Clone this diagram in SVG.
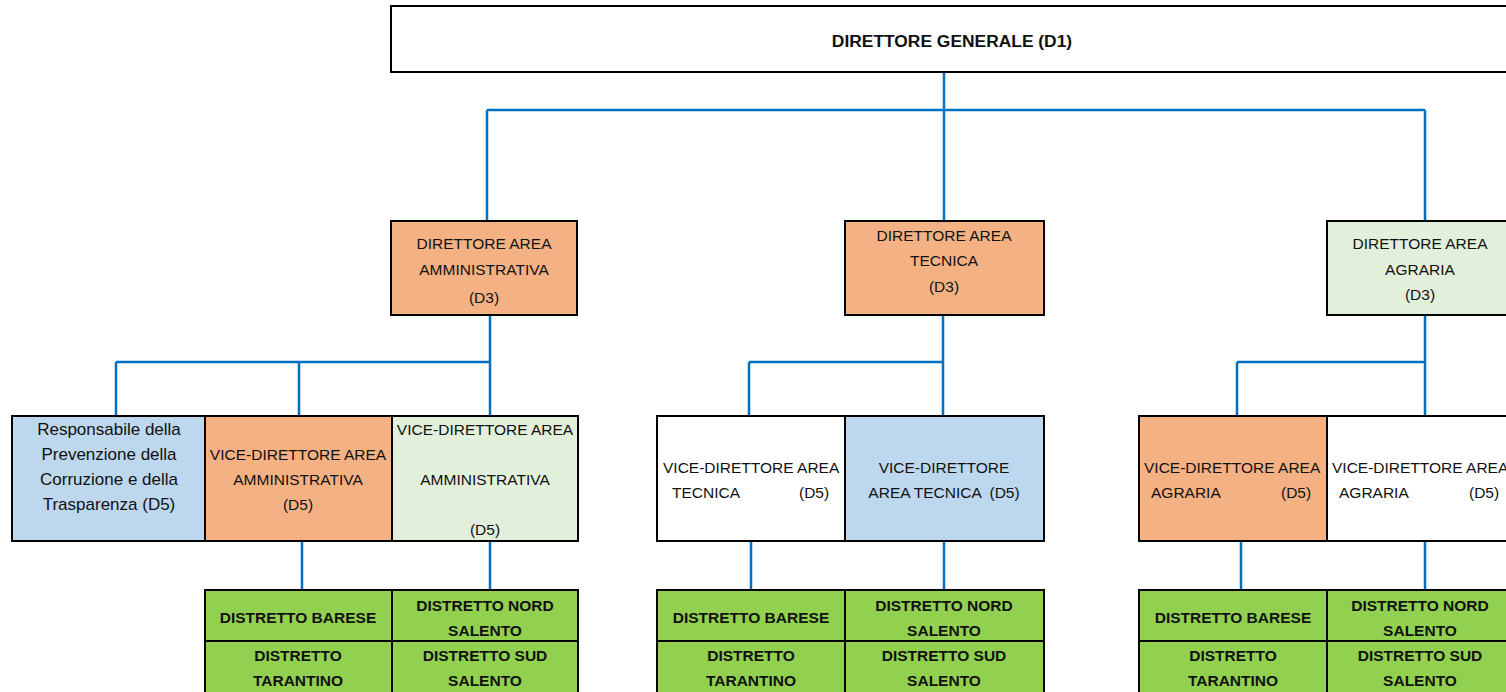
<svg xmlns="http://www.w3.org/2000/svg" width="1506" height="692" viewBox="0 0 1506 692">
<style>
text{font-family:"Liberation Sans",Arial,sans-serif;font-size:15.5px;fill:#111;}
.c{text-anchor:middle;}
.b{font-weight:bold;}
.lc{font-size:17px;}
.box{stroke:#000;stroke-width:2;}
.or{fill:#F4B183;}
.gr{fill:#E2EFDA;}
.bl{fill:#BDD7EE;}
.wh{fill:#fff;}
.dg{fill:#92D050;}
.conn{stroke:#0070C0;stroke-width:2.5;fill:none;}
</style>
<rect width="1506" height="692" fill="#fff"/>
<g id="connectors" class="conn">
<path d="M944 72V110M487 110H1425M487 110V220M944 110V220M1425 110V220"/>
<path d="M490 315V362M116 362H490M116 362V416M299 362V416M490 362V416"/>
<path d="M943 315V416M749 362H943M749 362V416"/>
<path d="M1425 315V416M1237 362H1425M1237 362V416"/>
<path d="M302 541V590M490 541V590M751 541V590M944 541V590M1241 541V590M1425 541V590"/>
</g>
<g id="dg">
<rect class="box wh" x="391" y="6" width="1130" height="66"/>
<text class="c b" x="952" y="47" style="font-size:17.4px">DIRETTORE GENERALE (D1)</text>
</g>
<g id="da-amm">
<rect class="box or" x="391" y="221" width="186" height="94"/>
<text class="c" x="484" y="249">DIRETTORE AREA</text>
<text class="c" x="484" y="275">AMMINISTRATIVA</text>
<text class="c" x="484" y="303">(D3)</text>
</g>
<g id="da-tec">
<rect class="box or" x="845" y="221" width="199" height="94"/>
<text class="c" x="944" y="241">DIRETTORE AREA</text>
<text class="c" x="944" y="266">TECNICA</text>
<text class="c" x="944" y="292">(D3)</text>
</g>
<g id="da-agr">
<rect class="box gr" x="1327" y="221" width="200" height="94"/>
<text class="c" x="1420" y="249">DIRETTORE AREA</text>
<text class="c" x="1420" y="275">AGRARIA</text>
<text class="c" x="1420" y="300">(D3)</text>
</g>
<g id="rpct">
<rect class="box bl" x="12" y="416" width="193" height="125"/>
<text class="c lc" x="109" y="435">Responsabile della</text>
<text class="c lc" x="109" y="460">Prevenzione della</text>
<text class="c lc" x="109" y="485">Corruzione e della</text>
<text class="c lc" x="109" y="510">Trasparenza (D5)</text>
</g>
<g id="vda-amm1">
<rect class="box or" x="205" y="416" width="187" height="125"/>
<text class="c" x="298" y="460">VICE-DIRETTORE AREA</text>
<text class="c" x="298" y="485">AMMINISTRATIVA</text>
<text class="c" x="298" y="510">(D5)</text>
</g>
<g id="vda-amm2">
<rect class="box gr" x="392" y="416" width="186" height="125"/>
<text class="c" x="485" y="435">VICE-DIRETTORE AREA</text>
<text class="c" x="485" y="485">AMMINISTRATIVA</text>
<text class="c" x="485" y="535">(D5)</text>
</g>
<g id="vda-tec1">
<rect class="box wh" x="657" y="416" width="188" height="125"/>
<text x="663" y="473">VICE-DIRETTORE AREA</text>
<text x="672" y="498">TECNICA</text>
<text x="799" y="498">(D5)</text>
</g>
<g id="vda-tec2">
<rect class="box bl" x="845" y="416" width="199" height="125"/>
<text class="c" x="944" y="473">VICE-DIRETTORE</text>
<text class="c" x="944" y="498" xml:space="preserve">AREA TECNICA  (D5)</text>
</g>
<g id="vda-agr1">
<rect class="box or" x="1139" y="416" width="188" height="125"/>
<text x="1144" y="473">VICE-DIRETTORE AREA</text>
<text x="1151" y="498">AGRARIA</text>
<text x="1281" y="498">(D5)</text>
</g>
<g id="vda-agr2">
<rect class="box wh" x="1327" y="416" width="200" height="125"/>
<text x="1332" y="473">VICE-DIRETTORE AREA</text>
<text x="1339" y="498">AGRARIA</text>
<text x="1469" y="498">(D5)</text>
</g>
<g id="distretti-amm">
<rect class="box dg" x="205" y="590" width="187" height="51"/>
<rect class="box dg" x="392" y="590" width="186" height="51"/>
<rect class="box dg" x="205" y="641" width="187" height="52"/>
<rect class="box dg" x="392" y="641" width="186" height="52"/>
<text class="c b" x="298" y="623">DISTRETTO BARESE</text>
<text class="c b" x="485" y="611">DISTRETTO NORD</text>
<text class="c b" x="485" y="636">SALENTO</text>
<text class="c b" x="298" y="661">DISTRETTO</text>
<text class="c b" x="298" y="686">TARANTINO</text>
<text class="c b" x="485" y="661">DISTRETTO SUD</text>
<text class="c b" x="485" y="686">SALENTO</text>
</g>
<g id="distretti-tec">
<rect class="box dg" x="657" y="590" width="188" height="51"/>
<rect class="box dg" x="845" y="590" width="199" height="51"/>
<rect class="box dg" x="657" y="641" width="188" height="52"/>
<rect class="box dg" x="845" y="641" width="199" height="52"/>
<text class="c b" x="751" y="623">DISTRETTO BARESE</text>
<text class="c b" x="944" y="611">DISTRETTO NORD</text>
<text class="c b" x="944" y="636">SALENTO</text>
<text class="c b" x="751" y="661">DISTRETTO</text>
<text class="c b" x="751" y="686">TARANTINO</text>
<text class="c b" x="944" y="661">DISTRETTO SUD</text>
<text class="c b" x="944" y="686">SALENTO</text>
</g>
<g id="distretti-agr">
<rect class="box dg" x="1139" y="590" width="188" height="51"/>
<rect class="box dg" x="1327" y="590" width="200" height="51"/>
<rect class="box dg" x="1139" y="641" width="188" height="52"/>
<rect class="box dg" x="1327" y="641" width="200" height="52"/>
<text class="c b" x="1233" y="623">DISTRETTO BARESE</text>
<text class="c b" x="1420" y="611">DISTRETTO NORD</text>
<text class="c b" x="1420" y="636">SALENTO</text>
<text class="c b" x="1233" y="661">DISTRETTO</text>
<text class="c b" x="1233" y="686">TARANTINO</text>
<text class="c b" x="1420" y="661">DISTRETTO SUD</text>
<text class="c b" x="1420" y="686">SALENTO</text>
</g>
</svg>
